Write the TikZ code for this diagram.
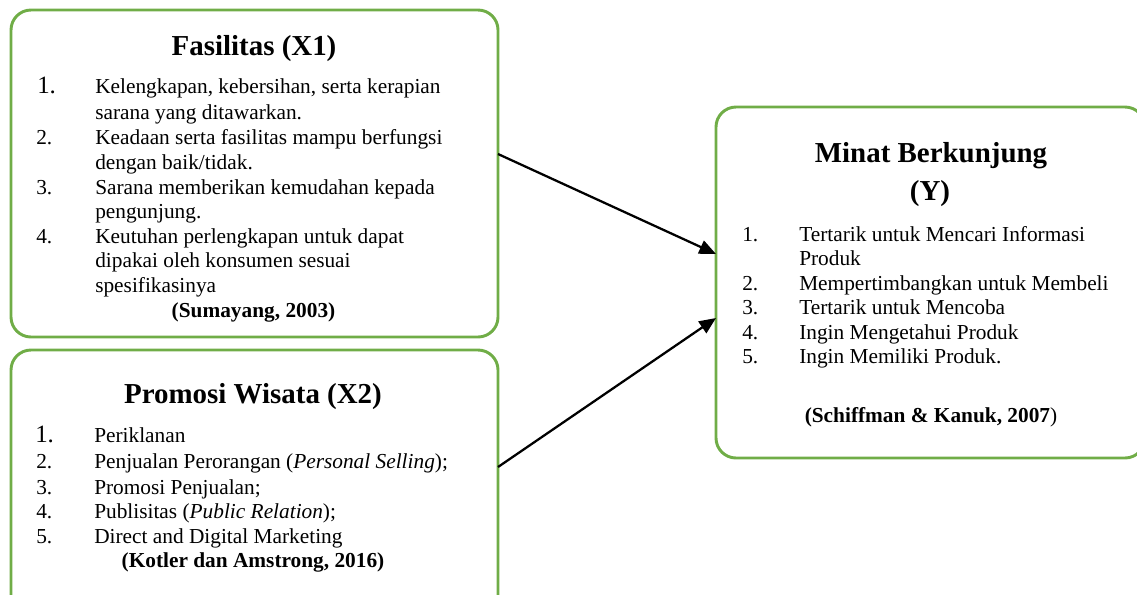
\documentclass[tikz,border=0pt]{standalone}
\usepackage{fontspec}
\setmainfont{Liberation Serif}
\usetikzlibrary{arrows.meta,calc}
\definecolor{boxgreen}{RGB}{112,173,71}
\tikzset{
  box/.style={draw=boxgreen,line width=2.2pt,rounded corners=15pt,rectangle,outer sep=0pt,inner sep=0pt},
  txt/.style={anchor=base west,inner sep=0pt,font=\fontsize{16}{19}\selectfont},
  bignum/.style={anchor=base west,inner sep=0pt,font=\fontsize{18.7}{22}\selectfont},
  ttl/.style={anchor=base,inner sep=0pt,font=\fontsize{21.7}{26}\selectfont\bfseries},
  refl/.style={anchor=base,inner sep=0pt,font=\fontsize{16}{19}\selectfont\bfseries},
  arr/.style={-{Triangle[length=12.5pt,width=10.5pt]},line width=1.7pt,black}
}
\begin{document}
\begin{tikzpicture}[x=0.75pt,y=-0.75pt]
\clip (0,0) rectangle (1137,594);
\useasboundingbox (0,0) rectangle (1137,594);
% boxes
\node[box,minimum width=365.25pt,minimum height=245.25pt] (b1) at (254.5,173.5) {};
\node[box,minimum width=365.25pt,minimum height=202.5pt] (b2) at (254.5,485) {};
\node[box,minimum width=321.75pt,minimum height=263.25pt] (b3) at (930.5,282.5) {};
% box 1
\node[ttl] (t1) at (254,55) {Fasilitas (X1)};
\node[bignum] (n11) at (37,93) {1.};
\node[txt] (i11) at (95,93) {Kelengkapan, kebersihan, serta kerapian};
\node[txt] (i11b) at (95,119) {sarana yang ditawarkan.};
\node[txt] (n12) at (36,144) {2.};
\node[txt] (i12) at (95,144) {Keadaan serta fasilitas mampu berfungsi};
\node[txt] (i12b) at (95,169) {dengan baik/tidak.};
\node[txt] (n13) at (36,194) {3.};
\node[txt] (i13) at (95,194) {Sarana memberikan kemudahan kepada};
\node[txt] (i13b) at (95,218) {pengunjung.};
\node[txt] (n14) at (36,243) {4.};
\node[txt] (i14) at (95,243) {Keutuhan perlengkapan untuk dapat};
\node[txt] (i14b) at (95,267) {dipakai oleh konsumen sesuai};
\node[txt] (i14c) at (95,292) {spesifikasinya};
\node[refl] (r1) at (253.5,317) {(Sumayang, 2003)};
% box 2
\node[ttl] (t2) at (253,403) {Promosi Wisata (X2)};
\node[bignum] (n21) at (35,442) {1.};
\node[txt] (i21) at (94,442) {Periklanan};
\node[txt] (n22) at (36,468) {2.};
\node[txt] (i22) at (94,468) {Penjualan Perorangan (\textit{Personal Selling});};
\node[txt] (n23) at (36,494) {3.};
\node[txt] (i23) at (94,494) {Promosi Penjualan;};
\node[txt] (n24) at (36,518) {4.};
\node[txt] (i24) at (94,518) {Publisitas (\textit{Public Relation});};
\node[txt] (n25) at (36,543) {5.};
\node[txt] (i25) at (94,543) {Direct and Digital Marketing};
\node[refl] (r2) at (253,567) {(Kotler dan Amstrong, 2016)};
% box 3
\node[ttl] (t3) at (931,162) {Minat Berkunjung};
\node[ttl] (t3b) at (930,200) {(Y)};
\node[txt] (n31) at (742,241) {1.};
\node[txt] (i31) at (799,241) {Tertarik untuk Mencari Informasi};
\node[txt] (i31b) at (799,265) {Produk};
\node[txt] (n32) at (742,290) {2.};
\node[txt] (i32) at (799,290) {Mempertimbangkan untuk Membeli};
\node[txt] (n33) at (742,314) {3.};
\node[txt] (i33) at (799,314) {Tertarik untuk Mencoba};
\node[txt] (n34) at (742,339) {4.};
\node[txt] (i34) at (799,339) {Ingin Mengetahui Produk};
\node[txt] (n35) at (742,363) {5.};
\node[txt] (i35) at (799,363) {Ingin Memiliki Produk.};
\node[refl] (r3) at (931,422) {(Schiffman \& Kanuk, 2007\textmd{)}};
% arrows
\draw[arr] ($(b1.north east)+(0,144)$) -- ($(b3.north west)+(0,147)$);
\draw[arr] ($(b2.north east)+(0,117)$) -- ($(b3.north west)+(0,211)$);
\end{tikzpicture}
\end{document}
